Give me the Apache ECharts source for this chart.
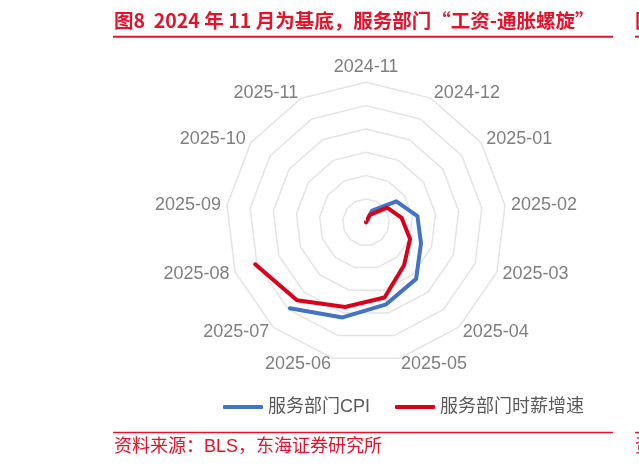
<!DOCTYPE html>
<html><head><meta charset="utf-8">
<script src="https://cdn.jsdelivr.net/npm/echarts@6/dist/echarts.min.js"></script>
<style>html,body{margin:0;padding:0;background:#fff}#c{width:639px;height:468px}</style>
</head><body><div id="c"></div>
<script>
// ---- data ----
const months = ['2024-11','2024-12','2025-01','2025-02','2025-03','2025-04','2025-05','2025-06','2025-07','2025-08','2025-09','2025-10','2025-11'];
const cpiServices  = [0, 0.28, 0.79, 1.11, 1.26, 1.62, 1.81, 2.10, 2.46, null, null, null, null];
const wageServices = [0, 0.18, 0.55, 0.77, 1.01, 1.23, 1.66, 1.87, 2.23, 2.54, null, null, null];
const seriesNames = ['服务部门CPI', '服务部门时薪增速'];
const radialMax = 3;
const ringCount = 6;
const titleText = '图8  2024 年 11 月为基底，服务部门“工资-通胀螺旋”';
const sourceText = '资料来源：BLS，东海证券研究所';

// ---- chart ----
const FONT = '"Liberation Sans", "Noto Sans CJK SC", sans-serif';
const CJK = '"Noto Sans CJK SC", sans-serif';
const RED = '#D9001B', BLUE = '#4472C4', TRED = '#E3132C';
const center = [366, 222.3], R = 140;
// radar goes counter-clockwise, so reverse order after the first one to get clockwise labels
const radarOrder = [months[0]].concat(months.slice(1).reverse());

const chart = echarts.init(document.getElementById('c'), null, {renderer: 'canvas'});
chart.setOption({
  backgroundColor: '#fff',
  animation: false,
  radar: {
    center: center, radius: R, startAngle: 90, splitNumber: ringCount, shape: 'polygon',
    indicator: radarOrder.map(m => ({name: m, min: 0, max: radialMax})),
    axisName: {color: '#7F7F7F', fontSize: 18, fontFamily: FONT},
    nameGap: 6,
    axisLine: {show: false}, axisTick: {show: false}, axisLabel: {show: false},
    splitArea: {show: false},
    splitLine: {lineStyle: {color: '#E4E4E4', width: 1.5}}
  },
  polar: {center: center, radius: R},
  angleAxis: {type: 'category', data: months, boundaryGap: false, startAngle: 90, clockwise: true, show: false},
  radiusAxis: {type: 'value', min: 0, max: radialMax, show: false},
  legend: {
    data: seriesNames, left: 218, top: 393, padding: 5, itemWidth: 40, itemHeight: 4, itemGap: 25, icon: 'roundRect',
    textStyle: {fontSize: 18, color: '#595959', fontFamily: FONT}
  },
  series: [
    {name: seriesNames[0], type: 'line', coordinateSystem: 'polar', data: cpiServices, symbol: 'none', showSymbol: false,
     itemStyle: {color: BLUE}, lineStyle: {color: BLUE, width: 4, cap: 'round', join: 'round'}, z: 3},
    {name: seriesNames[1], type: 'line', coordinateSystem: 'polar', data: wageServices, symbol: 'none', showSymbol: false,
     itemStyle: {color: RED}, lineStyle: {color: RED, width: 4, cap: 'round', join: 'round'}, z: 4}
  ],
  graphic: [
    {type: 'text', style: {text: titleText, x: 114, y: 21, verticalAlign: 'middle', font: 'bold 19.5px ' + CJK, fill: TRED}},
    {type: 'rect', shape: {x: 113, y: 35.7, width: 500, height: 2}, style: {fill: TRED}},
    {type: 'text', style: {text: '图9', x: 635, y: 21, verticalAlign: 'middle', font: 'bold 19.5px ' + CJK, fill: TRED}},
    {type: 'rect', shape: {x: 635, y: 35.7, width: 10, height: 2}, style: {fill: TRED}},
    {type: 'rect', shape: {x: 113, y: 431.8, width: 500, height: 1.5}, style: {fill: TRED}},
    {type: 'rect', shape: {x: 635, y: 431.8, width: 10, height: 1.5}, style: {fill: TRED}},
    {type: 'text', style: {text: sourceText, x: 114, y: 447, verticalAlign: 'middle', font: '18px ' + FONT, fill: TRED}},
    {type: 'text', style: {text: '资料来源', x: 635, y: 447, verticalAlign: 'middle', font: '18px ' + FONT, fill: TRED}}
  ]
});
</script></body></html>
